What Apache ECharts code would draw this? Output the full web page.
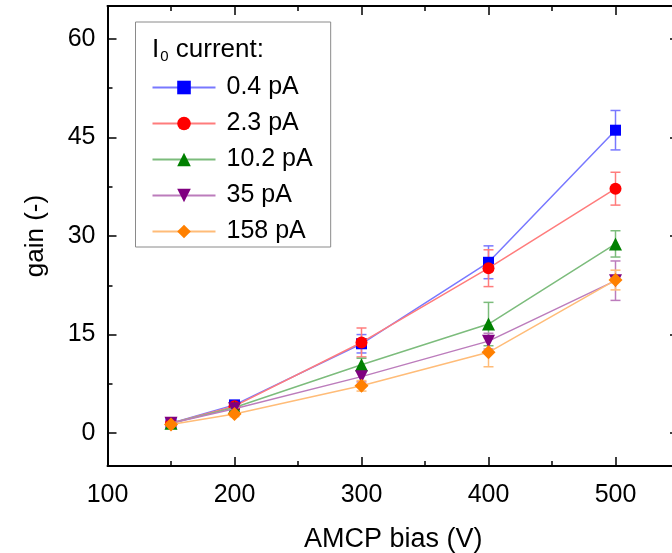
<!DOCTYPE html>
<html><head><meta charset="utf-8">
<script src="https://cdn.jsdelivr.net/npm/echarts@6/dist/echarts.min.js"></script>
<style>html,body{margin:0;padding:0;background:#fff}#c{width:672px;height:553px}</style>
</head><body><div id="c"></div>
<script>
// ---- data ----
const biasV = [150, 200, 300, 400, 500];
const seriesNames = ['0.4 pA', '2.3 pA', '10.2 pA', '35 pA', '158 pA'];
const gain_0_4 = [1.5, 4.3, 13.6, 26.0, 46.1];
const err_0_4 = [0.3, 0.4, 1.4, 2.5, 3.0];
const gain_2_3 = [1.5, 4.1, 13.8, 25.1, 37.2];
const err_2_3 = [0.3, 0.4, 2.2, 2.8, 2.5];
const gain_10_2 = [1.5, 3.9, 10.4, 16.6, 28.8];
const err_10_2 = [0.3, 0.4, 1.0, 3.3, 2.0];
const gain_35 = [1.5, 3.7, 8.6, 14.0, 23.2];
const err_35 = [0.3, 0.4, 0.8, 1.2, 3.0];
const gain_158 = [1.3, 2.9, 7.2, 12.3, 23.3];
const err_158 = [0.3, 0.4, 0.8, 2.2, 1.5];
const xTickLabels = [100, 200, 300, 400, 500];
const xMinorTicks = [150, 250, 350, 450];
const yTickLabels = [0, 15, 30, 45, 60];
const yMinorTicks = [7.5, 22.5, 37.5, 52.5];

const gains = [gain_0_4, gain_2_3, gain_10_2, gain_35, gain_158];
const errs = [err_0_4, err_2_3, err_10_2, err_35, err_158];
const markerColors = ['#0000ff', '#ff0000', '#008000', '#800080', '#ff8000'];
const lineColors = ['#7878ff', '#ff7c7c', '#7cbc7c', '#bc7cbc', '#ffbc78'];
const symbols = ['rect', 'circle', 'triangle', 'path://M0,0L2,0L1,1.73Z', 'diamond'];
const symbolSizes = [11, 12, 13, 13, 14];

const FONT = 'Liberation Sans';
const X_MIN = 100, X_MAX = 550, Y_MIN = -5, Y_MAX = 65;

function xAx(pos, values, len, showLine, showLabel, extra) {
  return Object.assign({
    type: 'value', position: pos, min: X_MIN, max: X_MAX, offset: 0,
    axisLine: {show: showLine, onZero: false, lineStyle: {color: '#000', width: 2}},
    axisTick: {show: true, inside: true, length: len, customValues: values, lineStyle: {color: '#000', width: 1.5}},
    axisLabel: {show: showLabel, customValues: values, margin: 17, fontSize: 25, fontFamily: FONT, color: '#000'},
    splitLine: {show: false}
  }, extra || {});
}
function yAx(pos, values, len, showLine, showLabel, extra) {
  return Object.assign({
    type: 'value', position: pos, min: Y_MIN, max: Y_MAX, offset: 0,
    axisLine: {show: showLine, onZero: false, lineStyle: {color: '#000', width: 2}},
    axisTick: {show: true, inside: true, length: len, customValues: values, lineStyle: {color: '#000', width: 1.5}},
    axisLabel: {show: showLabel, customValues: values, margin: 12, fontSize: 25, fontFamily: FONT, color: '#000'},
    splitLine: {show: false}
  }, extra || {});
}

const series = [];
seriesNames.forEach((name, i) => {
  const lc = lineColors[i];
  series.push({
    type: 'custom', name: 'err' + i, xAxisIndex: 0, yAxisIndex: 0, z: 1,
    encode: {x: 0, y: [1, 2]},
    data: biasV.map((x, k) => [x, gains[i][k] - errs[i][k], gains[i][k] + errs[i][k]]),
    renderItem: function (params, api) {
      const x = api.value(0);
      const top = api.coord([x, api.value(2)]);
      const bot = api.coord([x, api.value(1)]);
      const hw = 5;
      const st = {stroke: lc, lineWidth: 1.5, fill: null};
      return {type: 'group', children: [
        {type: 'line', shape: {x1: top[0], y1: top[1], x2: bot[0], y2: bot[1]}, style: st},
        {type: 'line', shape: {x1: top[0] - hw, y1: top[1], x2: top[0] + hw, y2: top[1]}, style: st},
        {type: 'line', shape: {x1: bot[0] - hw, y1: bot[1], x2: bot[0] + hw, y2: bot[1]}, style: st}
      ]};
    }
  });
  series.push({
    type: 'line', name: name, xAxisIndex: 0, yAxisIndex: 0, z: 2 + i,
    data: biasV.map((x, k) => [x, gains[i][k]]),
    symbol: symbols[i], symbolSize: symbolSizes[i], showAllSymbol: true,
    lineStyle: {color: lc, width: 1.5},
    itemStyle: {color: markerColors[i], borderWidth: 0},
    emphasis: {disabled: true},
    animation: false
  });
});

const chart = echarts.init(document.getElementById('c'), null, {renderer: 'canvas'});
chart.setOption({
  animation: false,
  backgroundColor: '#fff',
  grid: {left: 107.5, top: 6, right: -7, bottom: 87, containLabel: false, outerBoundsMode: 'none'},
  title: {
    text: '{a|I}{s|0}{a| current:}',
    left: 152, top: 35, padding: 0,
    textStyle: {fontWeight: 'normal', rich: {
      a: {fontSize: 26, fontFamily: FONT, color: '#000', fontWeight: 'normal'},
      s: {fontSize: 15, fontFamily: FONT, color: '#000', fontWeight: 'normal', verticalAlign: 'bottom', padding: [14, 0, 0, 1]}
    }}
  },
  legend: {
    data: seriesNames, orient: 'vertical', left: 135.5, top: 22,
    padding: [53, 18, 3, 16], itemGap: 11, itemWidth: 63, itemHeight: 17,
    borderColor: '#8a8a8a', borderWidth: 1, backgroundColor: '#fff',
    selectedMode: false,
    textStyle: {fontSize: 25, lineHeight: 24, fontFamily: FONT, color: '#000', padding: [0, 0, 0, 6]}
  },
  xAxis: [
    xAx('bottom', xTickLabels, 9, true, true, {
      name: 'AMCP bias (V)', nameLocation: 'middle', nameGap: 60,
      nameTextStyle: {fontSize: 27, fontFamily: FONT, color: '#000'}
    }),
    xAx('bottom', xMinorTicks, 5, false, false),
    xAx('top', xTickLabels, 9, true, false),
    xAx('top', xMinorTicks, 5, false, false)
  ],
  yAxis: [
    yAx('left', yTickLabels, 9, true, true, {
      name: 'gain (-)', nameLocation: 'middle', nameGap: 59,
      nameTextStyle: {fontSize: 26, fontFamily: FONT, color: '#000'}
    }),
    yAx('left', yMinorTicks, 5, false, false),
    yAx('right', yTickLabels, 9, true, false),
    yAx('right', yMinorTicks, 5, false, false)
  ],
  series: series
});
</script>
</body></html>
